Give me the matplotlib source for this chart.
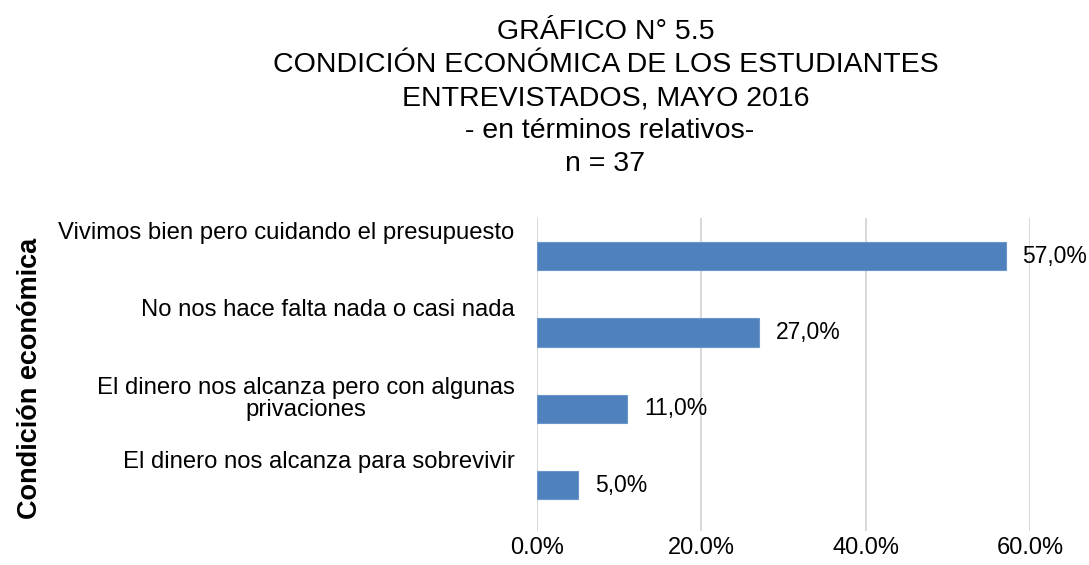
import matplotlib.pyplot as plt
from matplotlib.transforms import blended_transform_factory

plt.rcParams['font.family'] = ['Liberation Sans', 'DejaVu Sans']

categorias = ['Vivimos bien pero cuidando el presupuesto',
              'No nos hace falta nada o casi nada',
              'El dinero nos alcanza pero con algunas\nprivaciones',
              'El dinero nos alcanza para sobrevivir']
porcentajes = [57.0, 27.0, 11.0, 5.0]
ticks = [0, 20, 40, 60]
titulo = ('GRÁFICO N° 5.5\nCONDICIÓN ECONÓMICA DE LOS ESTUDIANTES\n'
          'ENTREVISTADOS, MAYO 2016\n - en términos relativos-\nn = 37')

fig = plt.figure(figsize=(10.89, 5.65), dpi=100)
ax = fig.add_axes([0.493, 0.06, 0.453, 0.554])

pos = list(range(len(categorias)))
ax.barh(pos, porcentajes, height=0.37, color='#4F81BD', edgecolor='#6A96CC',
        linewidth=0.8, zorder=3)

ax.set_xlim(0, 60)
ax.set_ylim(3.6, -0.5)
ax.set_xticks(ticks)
ax.set_xticklabels(['%.1f%%' % t for t in ticks], fontsize=17)
ax.tick_params(axis='x', length=0, pad=4)
ax.set_yticks([])
ax.grid(axis='x', color='#D9D9D9', linewidth=1.5, zorder=0)
for s in ax.spines.values():
    s.set_visible(False)

# etiquetas de categoria sobre cada barra
tr = blended_transform_factory(ax.transAxes, ax.transData)
for i, cat in enumerate(categorias):
    nl = cat.count('\n')
    ax.text(-0.045, i - 0.3 + 0.17 * nl, cat, transform=tr, ha='right', va='center',
            multialignment='center', fontsize=17.2, linespacing=1.05)

for i, v in enumerate(porcentajes):
    ax.annotate(('%.1f%%' % v).replace('.', ','), (v, i), xytext=(12, 0),
                textcoords='offset points', va='center', ha='left', fontsize=16.5)

fig.text(0.028, 0.33, 'Condición económica', rotation=90, fontsize=19.5,
         fontweight='bold', ha='center', va='center')

fig.text(0.556, 0.966, titulo, ha='center', va='top', fontsize=20.5,
         linespacing=1.35, multialignment='center')

fig.savefig('out.png', dpi=100)
